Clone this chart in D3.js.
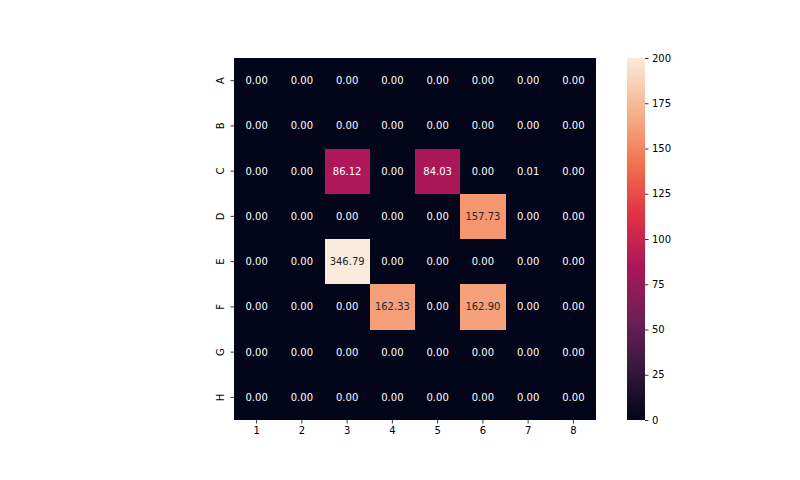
<!DOCTYPE html>
<html><head><meta charset="utf-8">
<script src="https://cdn.jsdelivr.net/npm/d3@7"></script>
<style>body{margin:0;background:#fff}svg{display:block}text{font-family:"DejaVu Sans",sans-serif}</style>
</head><body><svg id="c" width="800" height="480"></svg>
<script>
const rows = ["A","B","C","D","E","F","G","H"];
const cols = ["1","2","3","4","5","6","7","8"];
const rowA = [0,0,0,0,0,0,0,0];
const rowB = [0,0,0,0,0,0,0,0];
const rowC = [0,0,86.12,0,84.03,0,0.01,0];
const rowD = [0,0,0,0,0,157.73,0,0];
const rowE = [0,0,346.79,0,0,0,0,0];
const rowF = [0,0,0,162.33,0,162.90,0,0];
const rowG = [0,0,0,0,0,0,0,0];
const rowH = [0,0,0,0,0,0,0,0];
const values = [rowA,rowB,rowC,rowD,rowE,rowF,rowG,rowH];
const cbTicks = [0,25,50,75,100,125,150,175,200];
const vmin = 0, vmax = 200;

const rocketStops = ["#03051a","#35193e","#701f57","#ad1759","#e13342","#f37651","#f6b48f","#faebdd"];
const rocketPos = [0,1/7,2/7,3/7,4/7,5/7,6/7,1];
const rocket = d3.scaleLinear().domain(rocketPos).range(rocketStops).interpolate(d3.interpolateRgb).clamp(true);
const color = v => rocket((v - vmin)/(vmax - vmin));

const svg = d3.select("#c");
const L = 234, R = 596, T = 58, B = 420;
const x = d3.scaleBand().domain(cols).range([L,R]);
const y = d3.scaleBand().domain(rows).range([T,B]);

const cells = [];
values.forEach((r,i)=>r.forEach((v,j)=>cells.push({r:rows[i],c:cols[j],v})));

// background of the grid in the minimum colour to hide seams
svg.append("rect").attr("x",L).attr("y",T).attr("width",R-L).attr("height",B-T)
  .attr("fill",color(0)).attr("shape-rendering","crispEdges");
svg.append("g").attr("shape-rendering","crispEdges").selectAll("rect").data(cells).join("rect")
  .attr("x",d=>Math.round(x(d.c))).attr("y",d=>Math.round(y(d.r)))
  .attr("width",d=>Math.round(x(d.c)+x.bandwidth())-Math.round(x(d.c)))
  .attr("height",d=>Math.round(y(d.r)+y.bandwidth())-Math.round(y(d.r)))
  .attr("fill",d=>color(d.v));

function lum(c){
  const rgb = d3.rgb(c);
  const f = u => { u/=255; return u<=0.03928? u/12.92 : Math.pow((u+0.055)/1.055,2.4); };
  return 0.2126*f(rgb.r)+0.7152*f(rgb.g)+0.0722*f(rgb.b);
}
svg.append("g").selectAll("text").data(cells).join("text")
  .attr("x",d=>x(d.c)+x.bandwidth()/2).attr("y",d=>y(d.r)+y.bandwidth()/2)
  .attr("text-anchor","middle").attr("dominant-baseline","central")
  .attr("font-size",10)
  .attr("fill",d=>lum(color(d.v))>0.408?"#262626":"#ffffff")
  .text(d=>d.v.toFixed(2));

const xAxis = svg.append("g").attr("transform",`translate(0,${B})`)
  .call(d3.axisBottom(x).tickSize(3.5).tickPadding(3.5));
xAxis.select(".domain").remove();
xAxis.selectAll("text").attr("font-size",10).attr("fill","#000").style("font-family","DejaVu Sans");
xAxis.selectAll("line").attr("stroke","#000").attr("stroke-width",0.8);

const yAxis = svg.append("g").attr("transform",`translate(${L},0)`)
  .call(d3.axisLeft(y).tickSize(3.5).tickPadding(3.5));
yAxis.select(".domain").remove();
yAxis.selectAll("line").attr("stroke","#000").attr("stroke-width",0.8);
yAxis.selectAll("text").attr("font-size",10).attr("fill","#000").style("font-family","DejaVu Sans")
  .attr("x",null).attr("dy",null).attr("text-anchor","middle").attr("dominant-baseline","central")
  .attr("transform","translate(-14,0) rotate(-90)");

// colorbar
const cbL = 627, cbR = 645;
const cy = d3.scaleLinear().domain([vmin,vmax]).range([B,T]);
const defs = svg.append("defs");
const grad = defs.append("linearGradient").attr("id","cbg").attr("x1",0).attr("y1",1).attr("x2",0).attr("y2",0);
d3.range(0,1.0001,0.02).forEach(t=>grad.append("stop").attr("offset",t).attr("stop-color",rocket(t)));
svg.append("rect").attr("x",cbL).attr("y",T).attr("width",cbR-cbL).attr("height",B-T).attr("fill","url(#cbg)");
const cAxis = svg.append("g").attr("transform",`translate(${cbR},0)`)
  .call(d3.axisRight(cy).tickValues(cbTicks).tickSize(3.5).tickPadding(3.5));
cAxis.select(".domain").remove();
cAxis.selectAll("line").attr("stroke","#000").attr("stroke-width",0.8);
cAxis.selectAll("text").attr("font-size",10).attr("fill","#000").style("font-family","DejaVu Sans");
</script></body></html>
